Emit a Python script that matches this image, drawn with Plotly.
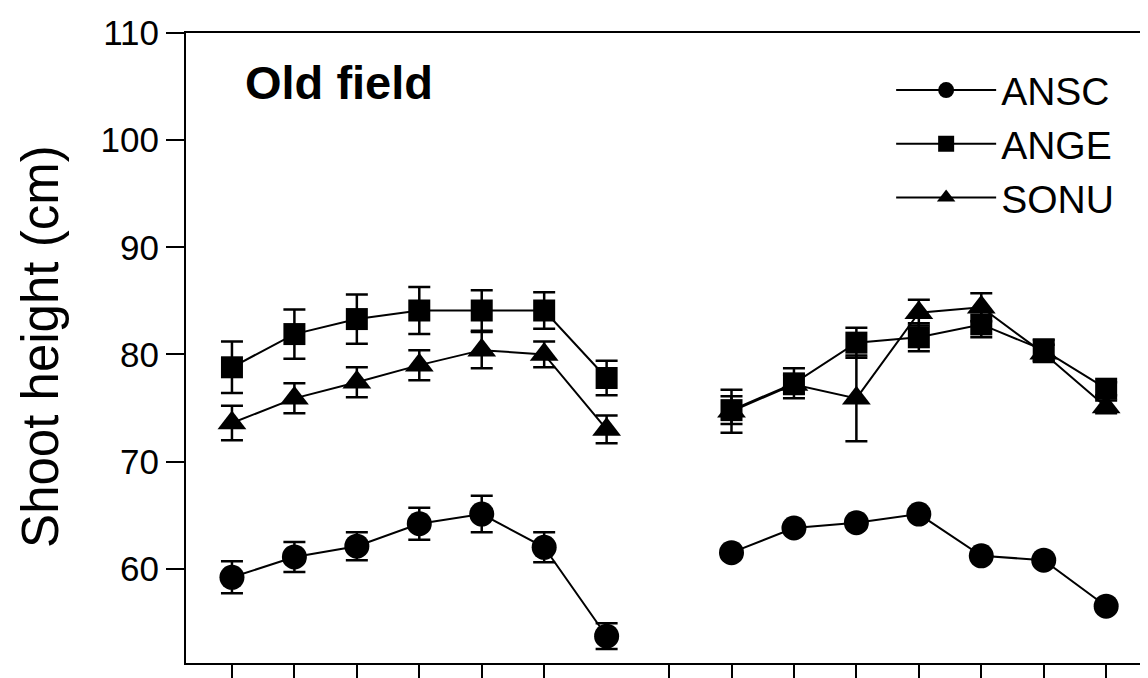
import plotly.graph_objects as go

# Sampling positions (two seasons, gap between)
x_g1 = [1, 2, 3, 4, 5, 6, 7]
x_g2 = [9, 10, 11, 12, 13, 14, 15]
tick_positions = [1, 2, 3, 4, 5, 6, 8, 9, 10, 11, 12, 13, 14, 15]

# ANSC (circles)
ansc_g1 = [59.2, 61.1, 62.1, 64.2, 65.1, 62.0, 53.7]
ansc_g1_err = [1.5, 1.4, 1.3, 1.5, 1.7, 1.4, 1.2]
ansc_g2 = [61.5, 63.8, 64.3, 65.1, 61.2, 60.8, 56.5]
ansc_g2_err = [0.3, 0.3, 0.3, 0.3, 0.3, 0.3, 0.3]

# ANGE (squares)
ange_g1 = [78.8, 81.9, 83.3, 84.1, 84.1, 84.1, 77.8]
ange_g1_err = [2.4, 2.3, 2.3, 2.2, 1.9, 1.7, 1.6]
ange_g2 = [74.8, 77.3, 81.1, 81.6, 82.8, 80.4, 76.8]
ange_g2_err = [1.3, 1.4, 1.4, 1.3, 1.2, 1.0, 0.6]

# SONU (triangles)
sonu_g1 = [73.6, 75.9, 77.4, 79.0, 80.4, 80.0, 73.0]
sonu_g1_err = [1.6, 1.4, 1.4, 1.4, 1.7, 1.2, 1.3]
sonu_g2 = [74.7, 77.2, 75.9, 83.9, 84.4, 80.1, 75.1]
sonu_g2_err = [2.0, 0.9, 4.0, 1.2, 1.3, 0.8, 0.6]

series = [
    ("ANSC", "circle", 25, ansc_g1, ansc_g1_err, ansc_g2, ansc_g2_err),
    ("ANGE", "square", 22, ange_g1, ange_g1_err, ange_g2, ange_g2_err),
    ("SONU", "triangle-up", 25, sonu_g1, sonu_g1_err, sonu_g2, sonu_g2_err),
]

FONT = "Liberation Sans, Arial, sans-serif"

fig = go.Figure()
for name, sym, size, y1, e1, y2, e2 in series:
    fig.add_trace(go.Scatter(
        x=x_g1 + [None] + x_g2,
        y=y1 + [None] + y2,
        name=name,
        mode="lines+markers",
        connectgaps=False,
        line=dict(color="black", width=2),
        marker=dict(symbol=sym, size=size, color="black"),
        error_y=dict(type="data", array=e1 + [0] + e2, color="black",
                     thickness=2.5, width=11, visible=True),
    ))

fig.update_layout(
    width=1140, height=670,
    margin=dict(l=178, r=0, t=25, b=15, autoexpand=False),
    paper_bgcolor="white", plot_bgcolor="white",
    font=dict(family=FONT, color="black"),
    showlegend=True,
    legend=dict(
        x=0.733, y=0.96, xanchor="left", yanchor="top",
        font=dict(size=39, family=FONT, color="black"),
        bgcolor="rgba(0,0,0,0)", itemwidth=100, tracegroupgap=0,
    ),
    xaxis=dict(
        range=[0.264, 15.67],
        tickvals=tick_positions,
        ticktext=[""] * len(tick_positions),
        ticks="outside", ticklen=15, tickwidth=1.5, tickcolor="black",
        showline=True, linecolor="black", linewidth=2, mirror=True,
        showgrid=False, zeroline=False,
    ),
    yaxis=dict(
        range=[51.2, 110],
        tickvals=[60, 70, 80, 90, 100, 110],
        ticks="outside", ticklen=18, tickwidth=1.5, tickcolor="black",
        tickfont=dict(size=35, family=FONT, color="black"),
        showline=True, linecolor="black", linewidth=2, mirror=False,
        showgrid=False, zeroline=False,
    ),
    annotations=[
        dict(text="<b>Old field</b>", xref="paper", yref="paper",
             x=0.059, y=0.921, xanchor="left", yanchor="middle",
             showarrow=False, font=dict(size=47, family=FONT, color="black")),
        dict(text="Shoot height (cm)", xref="paper", yref="paper",
             x=-0.152, y=0.503, xanchor="center", yanchor="middle",
             textangle=-90, showarrow=False,
             font=dict(size=51, family=FONT, color="black")),
    ],
)

fig.write_html("out.html")
